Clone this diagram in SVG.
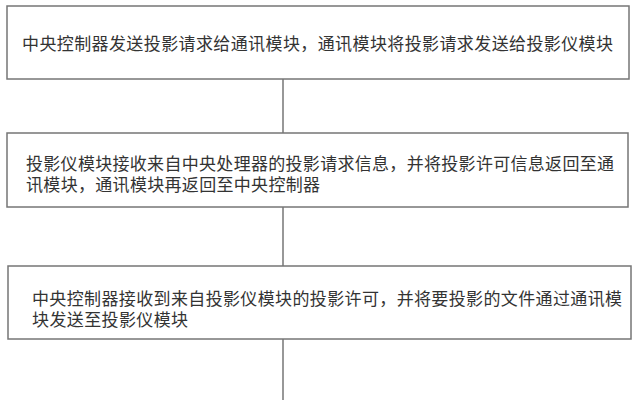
<svg xmlns="http://www.w3.org/2000/svg" width="638" height="400" viewBox="0 0 638 400">
  <style>
    .box { fill: #ffffff; stroke: #767676; stroke-width: 1.5; }
    .conn { stroke: #767676; stroke-width: 1.5; fill: none; }
    .t { font-family: "Liberation Sans", "Noto Sans CJK SC", sans-serif; font-size: 17px; fill: #333333; }
  </style>
  <rect x="0" y="0" width="638" height="400" fill="#ffffff"/>
  <g id="connectors">
    <line class="conn" x1="283" y1="79" x2="283" y2="133"/>
    <line class="conn" x1="283" y1="207" x2="283" y2="266"/>
    <line class="conn" x1="283" y1="339" x2="283" y2="400"/>
  </g>
  <g id="node1">
    <rect class="box" x="7" y="6" width="622" height="73"/>
    <text class="t" x="22" y="49.5" textLength="591" lengthAdjust="spacing">中央控制器发送投影请求给通讯模块，通讯模块将投影请求发送给投影仪模块</text>
  </g>
  <g id="node2">
    <rect class="box" x="7" y="133" width="621" height="74"/>
    <text class="t" x="26" y="169.5" textLength="588" lengthAdjust="spacing">投影仪模块接收来自中央处理器的投影请求信息，并将投影许可信息返回至通</text>
    <text class="t" x="26" y="190.5" textLength="294" lengthAdjust="spacing">讯模块，通讯模块再返回至中央控制器</text>
  </g>
  <g id="node3">
    <rect class="box" x="8" y="266" width="623" height="73"/>
    <text class="t" x="32" y="304.5" textLength="590" lengthAdjust="spacing">中央控制器接收到来自投影仪模块的投影许可，并将要投影的文件通过通讯模</text>
    <text class="t" x="32" y="325.5" textLength="156" lengthAdjust="spacing">块发送至投影仪模块</text>
  </g>
</svg>
